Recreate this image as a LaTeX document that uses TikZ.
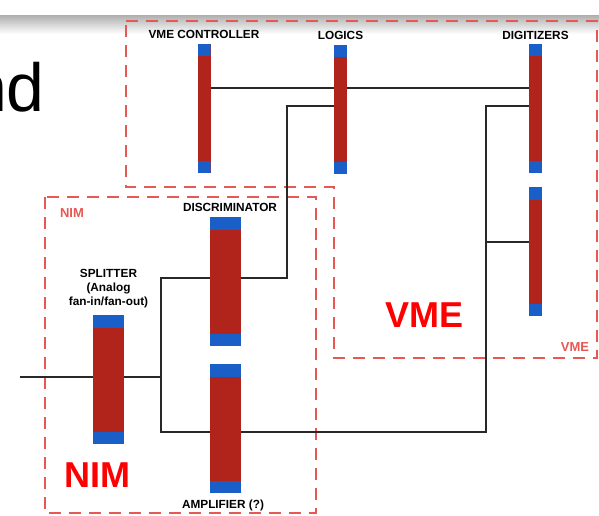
\documentclass[tikz,border=0pt]{standalone}
\usepackage{fontspec}
\setmainfont{Liberation Sans}
\usetikzlibrary{positioning}
\definecolor{modred}{RGB}{176,36,27}
\definecolor{modblue}{RGB}{26,94,199}
\definecolor{zonered}{RGB}{230,88,84}
\definecolor{wiregray}{RGB}{40,40,40}

\begin{document}
\begin{tikzpicture}[
  x=1pt, y=-1pt,
  module/.style={fill=modred, inner sep=0pt, minimum width=#1, minimum height=129pt,
    path picture={
      \fill[modblue] (path picture bounding box.north west) rectangle ([yshift=-12.5pt]path picture bounding box.north east);
      \fill[modblue] (path picture bounding box.south west) rectangle ([yshift=12.5pt]path picture bounding box.south east);
    }},
  lbl/.style={font=\fontsize{11.8}{14}\selectfont\bfseries, inner sep=0pt, align=center},
  zone/.style={draw=zonered, line width=1.4pt, dash pattern=on 12pt off 8pt},
  zonelbl/.style={text=zonered, font=\fontsize{13}{15}\selectfont\bfseries, inner sep=0pt},
  biglbl/.style={text=red, font=\fontsize{36}{40}\selectfont\bfseries, inner sep=0pt},
  wire/.style={draw=wiregray, line width=1.1pt}
]
\useasboundingbox (0,0) rectangle (599,516);

% slide remains
\shade[top color=black!30, bottom color=white] (0,16) rectangle (599,34);
\node[anchor=base east, inner sep=0pt, font=\fontsize{68}{70}\selectfont] (title) at (45,112) {nd};

% crates
\draw[zone] (126,21) -- (597,21) -- (597,358) -- (334,358) -- (334,187) -- (126,187) -- cycle;
\draw[zone] (45,197) rectangle (316,513);
\node[zonelbl] (nimsmall) at (72,213) {NIM};
\node[zonelbl] (vmesmall) at (575,347) {VME};
\node[biglbl] (nimbig) at (97.5,475) {NIM};
\node[biglbl] (vmebig) at (424,315) {VME};

% modules
\node[module=13pt] (vmec) at (204,108.5) {};
\node[module=13pt] (logic) at (340.5,109.5) {};
\node[module=13pt] (digA) at (535.5,108.5) {};
\node[module=13pt] (digB) at (535.5,251.5) {};
\node[module=31pt] (disc) at (225.5,281.5) {};
\node[module=31pt] (ampl) at (225.5,428.5) {};
\node[module=31pt] (split) at (108.5,379.5) {};

\node[lbl] (vmeclbl) at (204,34) {VME CONTROLLER};
\node[lbl] (logiclbl) at (340.5,35) {LOGICS};
\node[lbl] (diglbl) at (535.5,35) {DIGITIZERS};
\node[lbl] (disclbl) at (230,207) {DISCRIMINATOR};
\node[lbl] (splitlbl) at (108.5,289) {SPLITTER\\(Analog\\fan-in/fan-out)};
\node[lbl] (ampllbl) at (223,505) {AMPLIFIER (?)};

% cabling
\coordinate (in) at (20,377);
\coordinate (fork) at (161,377);
\coordinate (jd) at (287,106);
\coordinate (jg) at (486,106);
\coordinate (jb) at (486,242);

\draw[wire] (vmec.east |- 0,88) -- (logic.west |- 0,88);
\draw[wire] (logic.east |- 0,88) -- (digA.west |- 0,88);
\draw[wire] (in) -- (split.west |- in);
\draw[wire] (split.east |- in) -- (fork);
\draw[wire] (disc.west |- 0,278) -| (fork) |- (ampl.west |- 0,432);
\draw[wire] (disc.east |- 0,278) -| (jd) -- (logic.west |- jd);
\draw[wire] (ampl.east |- 0,432) -| (jg) -- (digA.west |- jg);
\draw[wire] (jb) -- (digB.west |- jb);

\end{tikzpicture}
\end{document}
